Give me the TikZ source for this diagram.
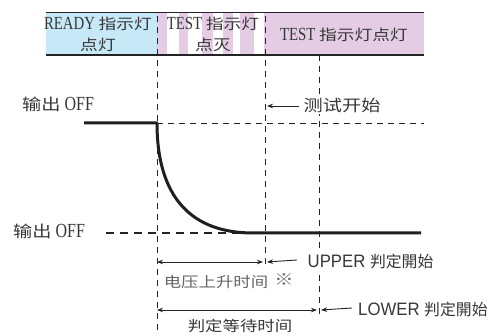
\documentclass[tikz,border=0pt]{standalone}
\usepackage{fontspec}
\setmainfont[FakeStretch=0.8]{Liberation Serif}
\newfontfamily\cjk[FakeStretch=1.2,Scale=0.8]{Noto Sans CJK SC}
\newfontfamily\cjks[FakeStretch=1.2]{Noto Sans CJK SC}
\newfontfamily\cjkn[Scale=0.88]{Noto Sans CJK SC}
\newfontfamily\lsans[FakeStretch=0.93]{Liberation Sans}
\usetikzlibrary{arrows.meta}
\definecolor{rblue}{RGB}{198,232,247}
\definecolor{tpink}{RGB}{228,205,228}
\definecolor{txt}{RGB}{55,55,55}
\definecolor{ln}{RGB}{35,35,35}
\begin{document}
\begin{tikzpicture}[x=1pt,y=-1pt,
  dsh/.style={draw=ln, line width=0.9pt, dash pattern=on 6pt off 5pt},
  dshb/.style={draw=ln, line width=1.8pt, dash pattern=on 8pt off 6pt},
  sig/.style={draw=black!88, line width=3pt, line join=round},
  lbl/.style={inner sep=0pt, text=txt, font=\fontsize{20}{22}\selectfont},
  slbl/.style={inner sep=0pt, text=txt, font=\lsans\fontsize{18}{20}\selectfont},
  glbl/.style={inner sep=0pt, text=black!60, font=\cjks\fontsize{14.5}{18}\selectfont},
  bandtxt/.style={inner sep=0pt, text=txt, align=center, font=\fontsize{18.5}{21}\selectfont},
  mask/.style={fill=white, inner ysep=1.5pt, inner xsep=0.5pt},
  arr/.style={draw=ln, line width=0.9pt, -{Stealth[length=6pt,width=4.5pt]}},
  darr/.style={draw=ln, line width=0.9pt, {Stealth[length=6pt,width=4.5pt]}-{Stealth[length=6pt,width=4.5pt]}}]
\useasboundingbox (0,0) rectangle (493,336);
\fill[white] (0,0) rectangle (493,336);
% ---- indicator band
\fill[rblue] (46,12) rectangle (157,55);
\foreach \a/\b in {157/167,179/188,202/213,223/233,240/254,264/424}
  \fill[tpink] (\a,12) rectangle (\b,55);
\draw[line width=1.8pt, ln] (46,12.5) -- (424,12.5);
\draw[line width=1.5pt, ln] (46,55) -- (424,55);
\node[bandtxt] (ready) at (98,34) {READY {\cjk 指示灯}\\{\cjk 点灯}};
\node[bandtxt] (toff) at (213,34) {TEST {\cjk 指示灯}\\{\cjk 点灭}};
\node[bandtxt] (ton) at (344,35) {TEST {\cjk 指示灯点灯}};
% ---- coordinates
\coordinate (v1t) at (157,16);
\coordinate (v1b) at (157,334);
\coordinate (v2t) at (265,16);
\coordinate (v2b) at (265,266);
\coordinate (v3t) at (319,55);
\coordinate (v3b) at (319,318);
\coordinate (hhi) at (424,123);
\coordinate (hlo) at (106,233);
\coordinate (hloe) at (240,233);
\coordinate (s0) at (84,123);
\coordinate (s1) at (157,123);
\coordinate (s2) at (253,233);
\coordinate (s3) at (421,233);
% ---- dashed guides
\draw[dsh] (v1t) -- (v1b);
\draw[dsh] (v2t) -- (v2b);
\draw[dsh] (v3t) -- (v3b);
\draw[dsh] (s1) -- (hhi);
\draw[dshb] (hlo) -- (hloe);
% ---- signal
\draw[sig] (s0) -- (s1) .. controls (157,198) and (192,233) .. (s2) -- (s3);
% ---- labels
\node[lbl, anchor=west] (off1) at (22,104) {{\cjk 输出} OFF};
\node[lbl, anchor=west] (off2) at (13,231) {{\cjk 输出} OFF};
\node[lbl, mask, anchor=west] (start) at (303,105) {\cjk 测试开始};
\coordinate (startp) at (267,106);
\draw[arr] ([xshift=-4pt,yshift=-1pt]start.west) -- (startp);
% upper
\coordinate (ua) at (157,262);
\coordinate (ub) at (263,262);
\draw[darr] (ua) -- (ub);
\node[slbl, mask, anchor=west] (upper) at (307,261) {UPPER {\cjkn 判定開始}};
\coordinate (upp) at (267,262);
\draw[arr] ([xshift=-10pt,yshift=1pt]upper.west) -- (upp);
\node[glbl] (rise) at (216,282) {电压上升时间};
\node[inner sep=0pt, text=black!60, font=\cjks\fontsize{16}{16}\selectfont] (note) at (284,280) {※};
% lower
\coordinate (la) at (157,310);
\coordinate (lb) at (317,310);
\draw[darr] (la) -- (lb);
\node[slbl, anchor=west] (lower) at (358,309) {LOWER {\cjkn 判定開始}};
\coordinate (lowp) at (321,310);
\draw[arr] ([xshift=-6pt,yshift=1pt]lower.west) -- (lowp);
\node[glbl, text=txt] (wait) at (240,326) {判定等待时间};
\end{tikzpicture}
\end{document}
